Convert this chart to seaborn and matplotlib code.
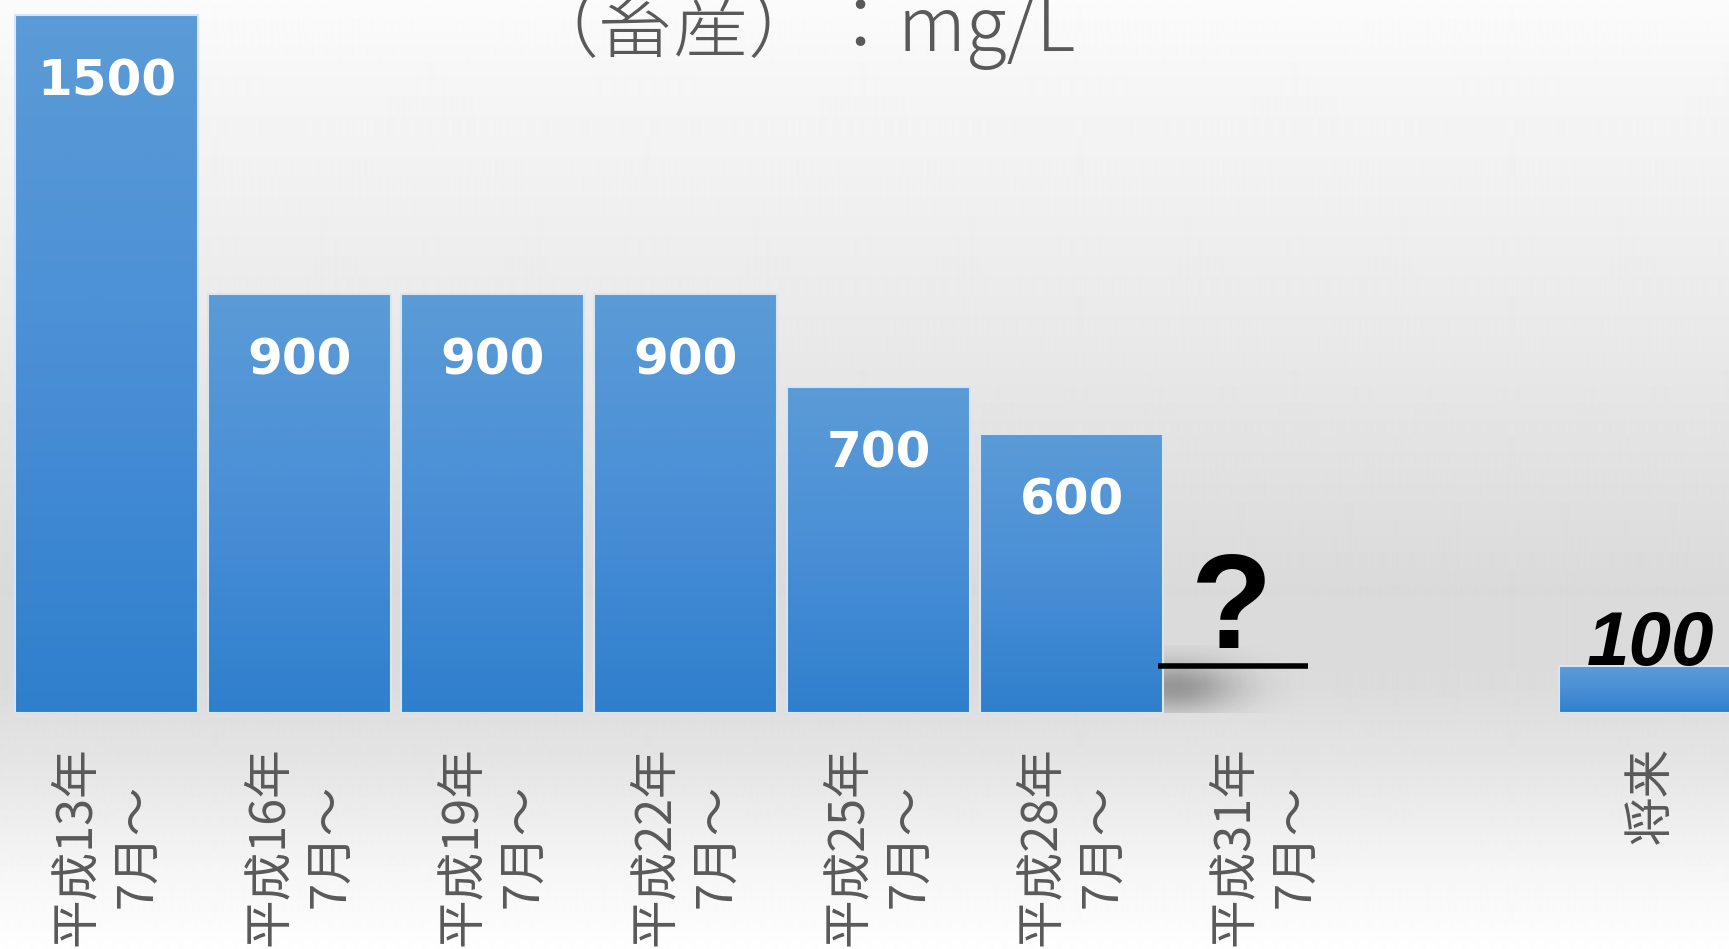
import numpy as np
import pandas as pd
import matplotlib
matplotlib.use("Agg")
import matplotlib.pyplot as plt
from matplotlib.colors import LinearSegmentedColormap
import seaborn as sns

# Effluent standard for livestock (mg/L) by period
periods = ["平成13年\n7月～", "平成16年\n7月～", "平成19年\n7月～", "平成22年\n7月～",
           "平成25年\n7月～", "平成28年\n7月～", "平成31年\n7月～", " ", "将来"]
past_periods = periods[:6]
past_limits = [1500, 900, 900, 900, 700, 600]
pending_period = "平成31年\n7月～"
pending_mark = "?"
future_period = "将来"
future_limit = 100
title_text = "（畜産）：mg/L"

CJK = ["Noto Sans CJK JP", "DejaVu Sans"]
GREY_TEXT = "#595959"

df = pd.DataFrame({
    "period": past_periods + [future_period],
    "limit": past_limits + [future_limit],
})

fig = plt.figure(figsize=(17.29, 9.49), dpi=100)

# slide-style background: white -> light grey -> white
bg = fig.add_axes([0, 0, 1, 1], zorder=0)
h = np.linspace(0, 1, 949)
shade = np.interp(h, [0.0, 0.08, 0.35, 0.62, 0.72, 0.82, 0.92, 1.0],
                  [0.985, 0.965, 0.915, 0.855, 0.86, 0.905, 0.965, 0.995])
bg.imshow(np.repeat(shade[:, None], 4, axis=1), cmap="gray", vmin=0, vmax=1,
          aspect="auto", interpolation="bilinear")
bg.set_axis_off()

ax = fig.add_axes([0, 236 / 949, 1, 713 / 949], zorder=1)
ax.patch.set_alpha(0)

sns.barplot(data=df, x="period", y="limit", order=periods, width=0.95,
            color="#4a90d9", saturation=1, ax=ax)

# vertical blue gradient inside each bar
bar_cmap = LinearSegmentedColormap.from_list("bar", ["#2f7fcd", "#4a8fd6", "#5b9bd6"])
grad = np.linspace(0, 1, 256)[:, None]
for p in list(ax.patches):
    x0, y0, w, hgt = p.get_x(), p.get_y(), p.get_width(), p.get_height()
    ax.imshow(grad, extent=[x0, x0 + w, y0, y0 + hgt], origin="lower",
              cmap=bar_cmap, aspect="auto", zorder=2, interpolation="bilinear")
    p.set_facecolor("none")
    p.set_edgecolor("#d6e6f6")
    p.set_linewidth(1.5)
    p.set_zorder(3)

# value labels inside the bars
for i, v in enumerate(past_limits):
    ax.annotate(f"{v}", xy=(i, v), xytext=(0, -58), textcoords="offset points",
                ha="center", va="baseline", color="white", fontsize=36,
                fontweight="bold", family="DejaVu Sans", zorder=5)

# future target label on top of its bar
fi = periods.index(future_period)
ax.annotate(f"{future_limit}", xy=(fi, future_limit), xytext=(0, 1),
            textcoords="offset points", ha="center", va="baseline",
            color="black", fontsize=55, fontweight="bold", style="italic",
            family="Liberation Sans", zorder=5)

# undecided value: question mark over a blank line, with soft shadow
pi = periods.index(pending_period)
line_x0, line_x1 = pi - 0.552, pi + 0.225
sx = np.linspace(line_x0, pi + 0.2, 200)
sy = np.linspace(0, future_limit + 45, 160)
XX, YY = np.meshgrid(sx, sy)
alpha = 0.32 * np.exp(-((XX - (line_x0 + 0.08)) / 0.33) ** 2
                      - ((YY - (future_limit - 45)) / 55) ** 2)
shadow = np.zeros((len(sy), len(sx), 4))
shadow[..., 3] = alpha
ax.imshow(shadow, extent=[sx[0], sx[-1], sy[0], sy[-1]], origin="lower",
          aspect="auto", zorder=1.5, interpolation="bilinear")
ax.hlines(future_limit, line_x0, line_x1, color="black", lw=4, zorder=4)
ax.annotate(pending_mark, xy=(pi - 0.174, future_limit), xytext=(0, 13.5),
            textcoords="offset points", ha="center", va="baseline",
            color="black", fontsize=96, fontweight="bold",
            family="Liberation Sans", zorder=5)

ax.set_xlim(-0.553, -0.553 + 1729 / 193)
ax.set_ylim(0, 713 / 0.4656)
ax.set_xlabel("")
ax.set_ylabel("")
ax.set_yticks([])
ax.set_xticks(range(len(periods)))
ax.set_xticklabels(periods, rotation=90, fontsize=35, color=GREY_TEXT,
                   family=CJK, linespacing=1.3, multialignment="center")
ax.tick_params(axis="x", length=0, pad=24)
for s in ax.spines.values():
    s.set_visible(False)

fig.text(800 / 1729, 1 - 51 / 949, title_text, ha="center", va="baseline",
         fontsize=54, color=GREY_TEXT, family=CJK, fontweight="light")

fig.savefig("out.png", dpi=100)
